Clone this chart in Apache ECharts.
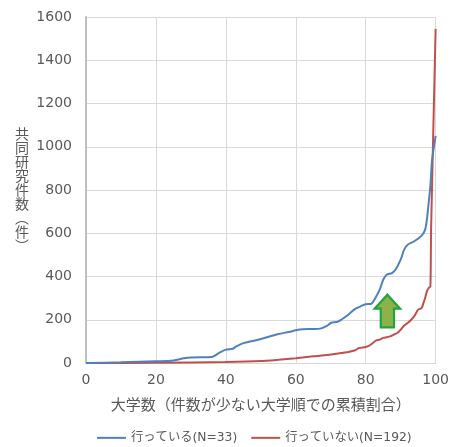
<!DOCTYPE html>
<html>
<head>
<meta charset="utf-8">
<script src="https://cdn.jsdelivr.net/npm/echarts@6/dist/echarts.min.js"></script>
<style>
  html, body { margin: 0; padding: 0; background: #fff; }
  #chart { width: 452px; height: 447px; }
</style>
</head>
<body>
<div id="chart"></div>
<script>
// Cumulative share of universities (%, sorted by fewest joint research cases)
// and the corresponding joint research count.
const seriesNames = ['行っている(N=33)', '行っていない(N=192)'];

const doingX = [0, 10, 20, 25, 28, 30, 36, 38, 40, 42, 43, 45, 48, 50, 55, 58, 60, 62, 65, 67, 69, 70, 72, 73, 75, 77, 79, 80, 81.5, 82.5, 84, 85, 86, 87.5, 88.5, 90, 91, 92, 94, 96, 97, 97.5, 98, 98.5, 99, 100];
const doingY = [0, 3, 8, 12, 22, 26, 28, 46, 62, 66, 77, 92, 103, 111, 134, 143, 151, 156, 157, 159, 173, 185, 191, 200, 223, 250, 265, 272, 273, 293, 339, 385, 408, 416, 431, 478, 524, 547, 564, 589, 617, 663, 740, 820, 940, 1050];

const notDoingX = [0, 20, 40, 50, 55, 60, 65, 70, 73, 75, 77, 78, 80, 81, 82, 83, 84, 85, 87, 88, 89, 90, 91, 92, 93, 94, 95, 96, 96.5, 97, 97.5, 98, 98.5, 98.7, 100];
const notDoingY = [0, 1, 5, 9, 15, 22, 31, 39, 46, 51, 59, 69, 74, 80, 92, 105, 108, 116, 123, 131, 139, 154, 173, 185, 200, 219, 247, 254, 277, 300, 331, 347, 354, 620, 1545];

// Up arrow annotation (x centre / half widths in axis units, y in counts)
const arrowX = [86.2];
const arrowHalfHead = [3.65];
const arrowHalfShaft = [1.9];
const arrowTip = [316];
const arrowNeck = [251];
const arrowBase = [165];

const xTicks = { min: 0, max: 100, interval: 20 };
const yTicks = { min: 0, max: 1600, interval: 200 };

const zip = (xs, ys) => xs.map((x, i) => [x, ys[i]]);

const textColor = '#595959';
const numFont = "'DejaVu Sans', 'Noto Sans CJK JP', sans-serif";
const cjkFont = "'Noto Sans CJK JP', sans-serif";

const chart = echarts.init(document.getElementById('chart'), null, { renderer: 'canvas' });

chart.setOption({
  animation: false,
  backgroundColor: '#ffffff',
  grid: { left: 86, right: 14, top: 17, bottom: 84, containLabel: false },
  legend: {
    left: 97,
    bottom: 3,
    padding: 0,
    itemWidth: 29,
    itemHeight: 2,
    itemGap: 14,
    icon: 'rect',
    textStyle: { color: textColor, fontSize: 12.3, fontFamily: numFont },
    data: seriesNames
  },
  xAxis: {
    type: 'value',
    min: xTicks.min, max: xTicks.max, interval: xTicks.interval,
    name: '大学数（件数が少ない大学順での累積割合）',
    nameLocation: 'middle',
    nameGap: 34,
    nameTextStyle: { color: textColor, fontSize: 15, fontFamily: cjkFont },
    axisLine: { show: true, lineStyle: { color: '#d9d9d9', width: 1 } },
    axisTick: { show: false },
    axisLabel: { color: textColor, fontSize: 14, fontFamily: numFont, margin: 10 },
    splitLine: { show: true, lineStyle: { color: '#d9d9d9', width: 1 } }
  },
  yAxis: {
    type: 'value',
    min: yTicks.min, max: yTicks.max, interval: yTicks.interval,
    name: '共\n同\n研\n究\n件\n数\n︵\n件\n︶',
    nameLocation: 'middle',
    nameRotate: 0,
    nameGap: 64,
    nameTextStyle: { color: textColor, fontSize: 14, lineHeight: 14, fontFamily: cjkFont, align: 'center' },
    axisLine: { show: true, lineStyle: { color: '#bfbfbf', width: 2 } },
    axisTick: { show: false },
    axisLabel: { color: textColor, fontSize: 14, fontFamily: numFont, margin: 14, formatter: v => String(v) },
    splitLine: { show: true, lineStyle: { color: '#d9d9d9', width: 1 } }
  },
  series: [
    {
      name: seriesNames[0],
      type: 'line',
      data: zip(doingX, doingY),
      smooth: 0.3,
      showSymbol: false,
      lineStyle: { color: '#4f81bd', width: 2 },
      itemStyle: { color: '#4f81bd' },
      z: 3
    },
    {
      name: seriesNames[1],
      type: 'line',
      data: zip(notDoingX, notDoingY),
      smooth: 0.2,
      showSymbol: false,
      lineStyle: { color: '#c0504d', width: 2 },
      itemStyle: { color: '#c0504d' },
      z: 2
    },
    {
      type: 'custom',
      silent: true,
      z: 5,
      data: arrowX.map((x, i) => [x, arrowHalfHead[i], arrowHalfShaft[i], arrowTip[i], arrowNeck[i], arrowBase[i]]),
      renderItem: function (params, api) {
        const cx = api.value(0), hh = api.value(1), hs = api.value(2);
        const tip = api.value(3), neck = api.value(4), base = api.value(5);
        const pts = [
          api.coord([cx, tip]),
          api.coord([cx + hh, neck]),
          api.coord([cx + hs, neck]),
          api.coord([cx + hs, base]),
          api.coord([cx - hs, base]),
          api.coord([cx - hs, neck]),
          api.coord([cx - hh, neck])
        ];
        return {
          type: 'polygon',
          shape: { points: pts },
          style: { fill: '#8db24a', stroke: '#22a33f', lineWidth: 2.2, lineJoin: 'miter' }
        };
      }
    }
  ]
});
</script>
</body>
</html>
